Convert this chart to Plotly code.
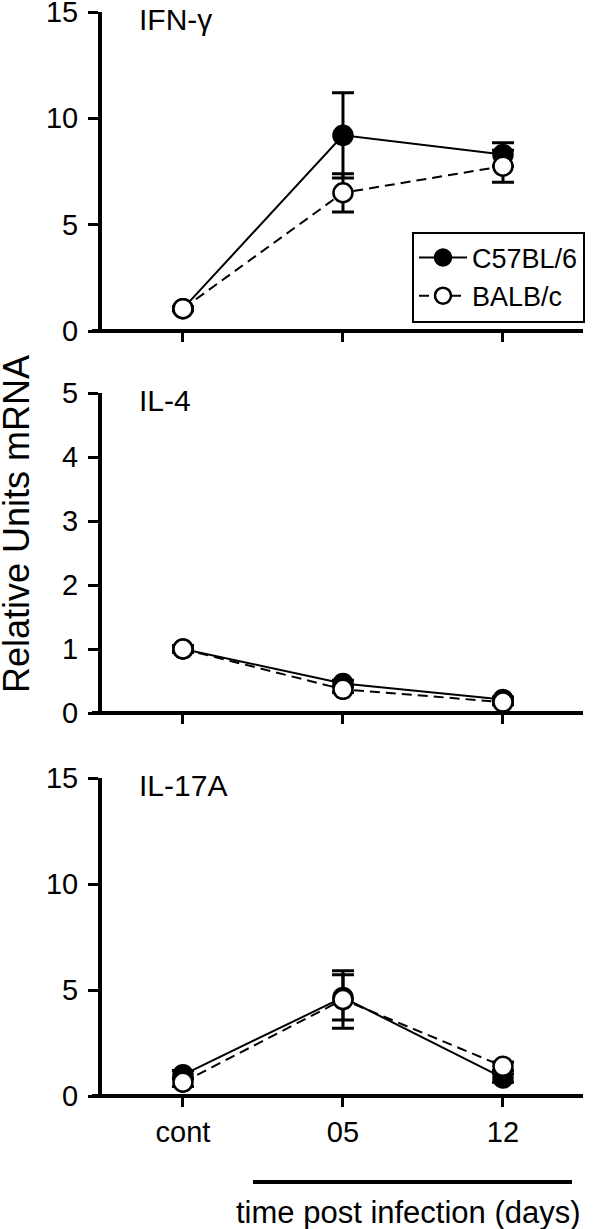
import plotly.graph_objects as go

categories = ["cont", "05", "12"]
x_pos = [0, 1, 2]

panel_names = ["IFN-γ", "IL-4", "IL-17A"]
panel_ranges = [[0, 15], [0, 5], [0, 15]]
panel_ticks = [[0, 5, 10, 15], [0, 1, 2, 3, 4, 5], [0, 5, 10, 15]]

ifng_c57 = [1.05, 9.2, 8.3]
ifng_c57_err = [0.1, 2.0, 0.55]
ifng_balb = [1.05, 6.5, 7.75]
ifng_balb_err = [0.1, 0.9, 0.75]

il4_c57 = [1.0, 0.46, 0.21]
il4_c57_err = [0.05, 0.05, 0.04]
il4_balb = [1.0, 0.37, 0.17]
il4_balb_err = [0.05, 0.05, 0.04]

il17_c57 = [1.0, 4.65, 0.85]
il17_c57_err = [0.2, 1.07, 0.2]
il17_balb = [0.65, 4.55, 1.4]
il17_balb_err = [0.2, 1.36, 0.2]

c57_data = [(ifng_c57, ifng_c57_err), (il4_c57, il4_c57_err), (il17_c57, il17_c57_err)]
balb_data = [(ifng_balb, ifng_balb_err), (il4_balb, il4_balb_err), (il17_balb, il17_balb_err)]

FONT = "Liberation Sans, Arial, sans-serif"
W, H = 600, 1229
ML, MR, MT, MB = 102, 17, 12, 133
PW = W - ML - MR
PH = H - MT - MB


def py(pix):
    # pixel row -> paper y
    return (H - MB - pix) / PH


def px(pix):
    return (pix - ML) / PW


domains = [[py(331), 1.0], [py(713), py(393)], [0.0, py(778)]]

fig = go.Figure()

for i in range(3):
    ax = "" if i == 0 else str(i + 1)
    c_vals, c_err = c57_data[i]
    b_vals, b_err = balb_data[i]
    fig.add_trace(
        go.Scatter(
            x=x_pos, y=c_vals,
            error_y=dict(type="data", array=c_err, color="black", thickness=3, width=11),
            mode="lines+markers",
            name="C57BL/6",
            legendgroup="c57",
            showlegend=(i == 0),
            line=dict(color="black", width=2),
            marker=dict(symbol="circle", size=19, color="black", line=dict(color="black", width=2.5)),
            cliponaxis=False,
            xaxis="x" + ax, yaxis="y" + ax,
        )
    )
    fig.add_trace(
        go.Scatter(
            x=x_pos, y=b_vals,
            error_y=dict(type="data", array=b_err, color="black", thickness=3, width=11),
            mode="lines+markers",
            name="BALB/c",
            legendgroup="balb",
            showlegend=(i == 0),
            line=dict(color="black", width=2, dash="10px,6px"),
            marker=dict(symbol="circle", size=19, color="white", line=dict(color="black", width=2.5)),
            cliponaxis=False,
            xaxis="x" + ax, yaxis="y" + ax,
        )
    )

layout = dict(
    width=W, height=H,
    margin=dict(l=ML, r=MR, t=MT, b=MB, autoexpand=False),
    paper_bgcolor="white", plot_bgcolor="white",
    font=dict(family=FONT, size=29, color="black"),
    legend=dict(
        x=px(585), xanchor="right", y=py(277), yanchor="middle",
        bordercolor="black", borderwidth=2, bgcolor="white",
        font=dict(size=27), tracegroupgap=0, itemwidth=48,
    ),
)

shapes = []
annotations = []
for i in range(3):
    ax = "" if i == 0 else str(i + 1)
    layout["xaxis" + ax] = dict(
        domain=[0, 1], anchor="y" + ax, range=[-0.506, 2.5],
        tickvals=x_pos, ticktext=categories, showticklabels=(i == 2),
        ticks="outside", ticklen=10, tickwidth=3, tickcolor="black",
        showline=False, showgrid=False, zeroline=False, automargin=False,
        tickfont=dict(size=29), ticklabelstandoff=0,
    )
    layout["yaxis" + ax] = dict(
        domain=domains[i], anchor="x" + ax, range=panel_ranges[i],
        tickvals=panel_ticks[i],
        ticks="outside", ticklen=10, tickwidth=3, tickcolor="black",
        showline=True, linewidth=4, linecolor="black",
        showgrid=False, zeroline=False, automargin=False,
        tickfont=dict(size=29), ticklabelstandoff=4,
        ticklabeloverflow="allow",
    )
    shapes.append(dict(
        type="line", xref="paper", yref="y" + ax + " domain",
        x0=-10 / PW, x1=1, y0=0, y1=0,
        line=dict(color="black", width=4),
    ))
    annotations.append(dict(
        text=panel_names[i], xref="paper", yref="y" + ax + " domain",
        x=px(137), y=1, xanchor="left", yanchor="top", yshift=11,
        showarrow=False, font=dict(size=30),
    ))

# bar under the time points
shapes.append(dict(
    type="line", xref="paper", yref="paper",
    x0=px(253), x1=px(572), y0=py(1182), y1=py(1182),
    line=dict(color="black", width=4),
))
annotations.append(dict(
    text="time post infection (days)", xref="paper", yref="paper",
    x=px(408), y=py(1212), xanchor="center", yanchor="middle",
    showarrow=False, font=dict(size=31),
))
annotations.append(dict(
    text="Relative Units mRNA", xref="paper", yref="paper",
    x=px(16), y=py(524), xanchor="center", yanchor="middle",
    textangle=-90, showarrow=False, font=dict(size=36),
))

layout["shapes"] = shapes
layout["annotations"] = annotations
fig.update_layout(**layout)

# drop the default page margin so the figure sits at the window corner
fig.write_html(
    "out.html",
    config={"displayModeBar": False},
    post_script="document.body.style.margin='0';",
)
